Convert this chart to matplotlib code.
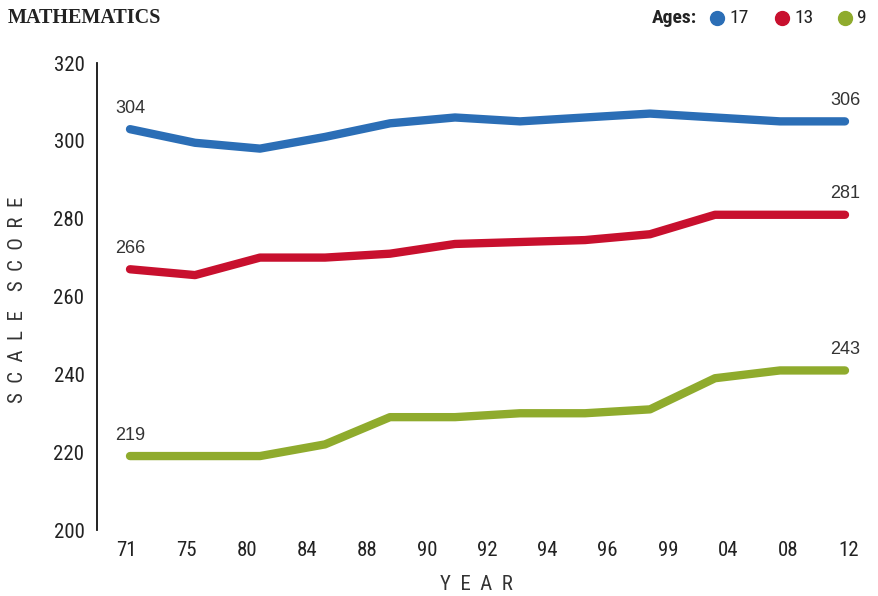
import matplotlib
matplotlib.use("Agg")
import matplotlib.pyplot as plt
from matplotlib import font_manager
from matplotlib.lines import Line2D
import numpy as np

names = sorted({f.name for f in font_manager.fontManager.ttflist})

def pick(*cands):
    for c in cands:
        if c in names:
            return c
    return "DejaVu Sans"

NARROW = pick("Liberation Sans Narrow", "DejaVu Sans Condensed", "Roboto Condensed", "Open Sans Condensed", "Liberation Sans")
SANS = pick("Liberation Sans", "DejaVu Sans")
SERIF = pick("Liberation Serif", "DejaVu Serif")

# ---- data ----
tick_labels = ["71", "75", "80", "84", "88", "90", "92", "94", "96", "99", "04", "08", "12"]
age17 = [303, 299.5, 298, 301, 304.5, 306, 305, 306, 307, 306, 305, 305]
age13 = [267, 265.5, 270, 270, 271, 273.5, 274, 274.5, 276, 281, 281, 281]
age9 = [219, 219, 219, 222, 229, 229, 230, 230, 231, 239, 241, 241]
series_names = ["17", "13", "9"]
start_labels = ["304", "266", "219"]
end_labels = ["306", "281", "243"]
colors = ["#2b6eb6", "#c8102e", "#8fab2d"]
yticks = [200, 220, 240, 260, 280, 300, 320]

fig = plt.figure(figsize=(8.79, 5.96), dpi=100)
ax = fig.add_axes([97/879, 1-530/596, 773/879, (530-63)/596])

x = np.arange(len(age17))
for vals, c, sl, el in zip([age17, age13, age9], colors, start_labels, end_labels):
    ax.plot(x, vals, color=c, lw=6, solid_capstyle="round", solid_joinstyle="round", zorder=3)
    ax.annotate(sl, (x[0], vals[0]), xytext=(0, 9), textcoords="offset points",
                ha="center", va="bottom", fontsize=13, family=SANS, color="#333333")
    ax.annotate(el, (x[-1], vals[-1]), xytext=(0, 9), textcoords="offset points",
                ha="center", va="bottom", fontsize=13, family=SANS, color="#333333")

ax.set_xlim(-33/65, 11 + 25/65)
ax.set_ylim(200, 320)
ax.set_yticks(yticks)
ax.set_yticklabels([str(v) for v in yticks], family=NARROW, fontsize=15)
ax.set_xticks(np.linspace(-0.05, 11.05, len(tick_labels)))
ax.set_xticklabels(tick_labels, family=NARROW, fontsize=15)
ax.tick_params(axis="both", length=0, colors="#222222")
ax.tick_params(axis="y", pad=9)
ax.tick_params(axis="x", pad=8)
for s in ["top", "right", "bottom"]:
    ax.spines[s].set_visible(False)
ax.spines["left"].set_linewidth(1.3)
ax.spines["left"].set_color("#111111")

fig.text(18/879, 1-300/596, "S  C  A  L  E    S  C  O  R  E", rotation=90, ha="center", va="center",
         fontsize=15, family=NARROW, color="#333333")
fig.text(476/879, 1-584/596, "Y  E  A  R", ha="center", va="center",
         fontsize=15, family=NARROW, color="#333333")

fig.text(8/879, 1-18/596, "MATHEMATICS", ha="left", va="center", fontsize=14.5,
         family=SERIF, weight="bold", color="#222222")
fig.text(652/879, 1-18/596, "Ages:", ha="left", va="center", fontsize=14,
         family=NARROW, weight="bold", color="#222222")
dot_x = [717, 782, 845]
for dx, c, nm in zip(dot_x, colors, series_names):
    fig.add_artist(Line2D([dx/879], [1-18/596], marker="o", markersize=10, color=c,
                          markeredgecolor=c, transform=fig.transFigure))
    fig.text((dx + 12)/879, 1-18/596, nm, ha="left", va="center", fontsize=14,
             family=NARROW, color="#222222")

fig.savefig("out.png", dpi=100)
